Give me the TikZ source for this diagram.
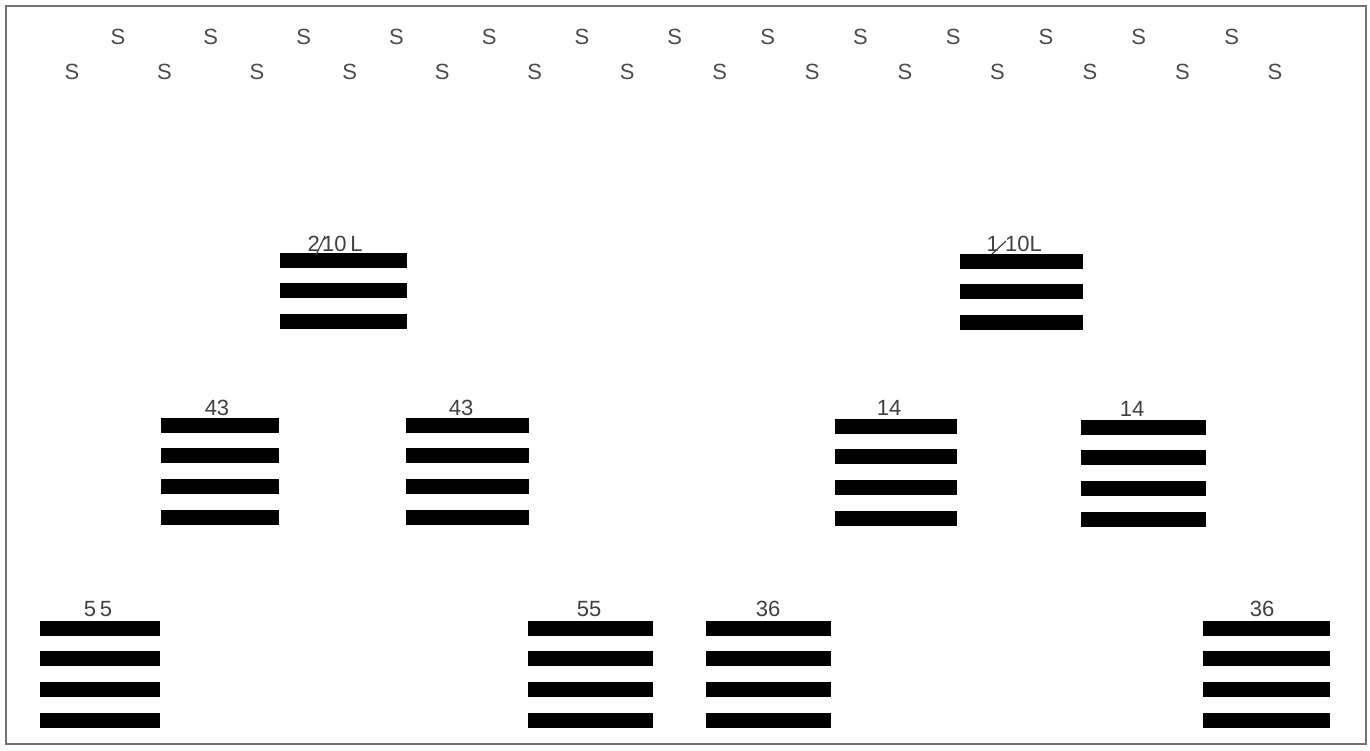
\documentclass[tikz,border=0pt]{standalone}
\usepackage{fontspec}
\setmainfont{Liberation Sans}
\begin{document}
\begin{tikzpicture}[x=1pt,y=-1pt,
  lab/.style={inner sep=0pt,font=\fontsize{22}{22}\selectfont,text=black!75},
  ess/.style={inner sep=0pt,font=\fontsize{22}{22}\selectfont,text=black!70},
  barfill/.style={fill=black},
  frameline/.style={draw=black!55,line width=1.3pt}]
\useasboundingbox (0,0) rectangle (1370,750);
\draw[frameline] (6,6) rectangle (1366,744);
% S rows
\foreach \k in {0,...,12} \node[ess] (st\k) at ({118+92.8*\k},37) {S};
\foreach \k in {0,...,13} \node[ess] (sb\k) at ({72+92.54*\k},72) {S};
% bar stacks: x1, x2, first centre y, count
\newcommand{\barstack}[4]{%
  \foreach \i in {1,...,#4} {%
    \fill[barfill] (#1,{#3+30.7*(\i-1)-7.5}) rectangle (#2,{#3+30.7*(\i-1)+7.5});}}
\barstack{280}{407}{260}{3}
\barstack{960}{1083}{261}{3}
\barstack{161}{279}{425}{4}
\barstack{406}{529}{425}{4}
\barstack{835}{957}{426}{4}
\barstack{1081}{1206}{427}{4}
\barstack{40}{160}{628}{4}
\barstack{528}{653}{628}{4}
\barstack{706}{831}{628}{4}
\barstack{1203}{1330}{628}{4}
% labels
\node[lab,anchor=east] (a2) at (320,244) {2};
\node[lab,anchor=west] (a10) at (322,244) {10\,L};
\draw[black!75,line width=1.2pt] (316,255) -- (325,236);
\node[lab,anchor=east] (b1) at (999,244) {1};
\node[lab,anchor=west] (b10) at (1005,244) {10L};
\draw[black!75,line width=1.2pt] (992,254) -- (1006,241);
\node[lab] (l43a) at (217,408) {43};
\node[lab] (l43b) at (461,408) {43};
\node[lab] (l14a) at (889,408) {14};
\node[lab] (l14b) at (1132,409) {14};
\node[lab] (l55a) at (98,609) {5\,5};
\node[lab] (l55b) at (589,609) {55};
\node[lab] (l36a) at (768,609) {36};
\node[lab] (l36b) at (1262,609) {36};
\end{tikzpicture}
\end{document}
